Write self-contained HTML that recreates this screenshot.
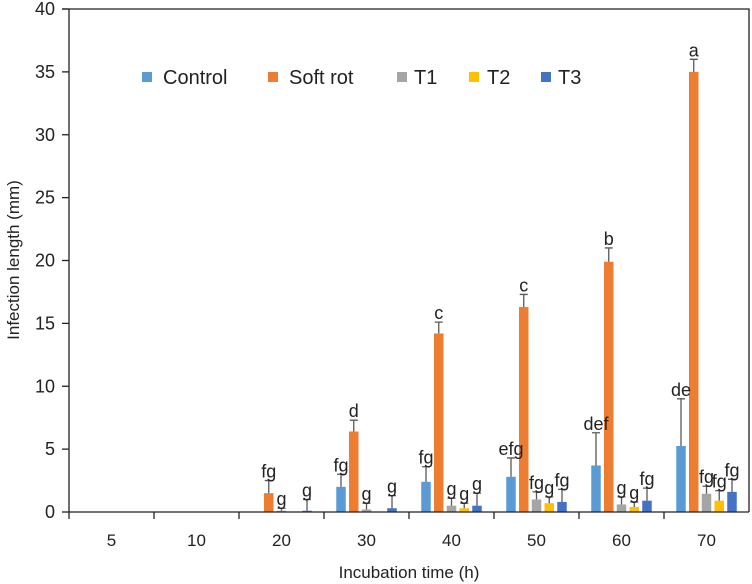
<!DOCTYPE html>
<html><head><meta charset="utf-8">
<style>
html,body{margin:0;padding:0;background:#fff;}
svg{display:block;font-family:"Liberation Sans",sans-serif;}
</style></head>
<body>
<svg id="chart" width="752" height="584" viewBox="0 0 752 584" xmlns="http://www.w3.org/2000/svg">
<rect width="752" height="584" fill="#fff"/>
<g id="plot"></g>
<text transform="translate(19,260) rotate(-90)" text-anchor="middle" font-size="17" fill="#222">Infection length (mm)</text>
<text x="409" y="578" text-anchor="middle" font-size="17" fill="#222">Incubation time (h)</text>
<g>
  <rect x="142" y="72" width="10" height="10" fill="#5B9BD5"/>
  <text x="163" y="84" font-size="20" fill="#222">Control</text>
  <rect x="268" y="72" width="10" height="10" fill="#ED7D31"/>
  <text x="289" y="84" font-size="20" fill="#222">Soft rot</text>
  <rect x="397" y="72" width="10" height="10" fill="#A5A5A5"/>
  <text x="414" y="84" font-size="20" fill="#222">T1</text>
  <rect x="469" y="72" width="10" height="10" fill="#FFC000"/>
  <text x="487" y="84" font-size="20" fill="#222">T2</text>
  <rect x="541" y="72" width="10" height="10" fill="#4472C4"/>
  <text x="558" y="84" font-size="20" fill="#222">T3</text>
</g>
</svg>
<script>
const categories = ["5","10","20","30","40","50","60","70"];
const seriesNames = ["Control","Soft rot","T1","T2","T3"];
const seriesColors = ["#5B9BD5","#ED7D31","#A5A5A5","#FFC000","#4472C4"];
const controlVals = [0,0,0,2.0,2.4,2.8,3.7,5.25];
const softRotVals = [0,0,1.5,6.4,14.2,16.3,19.9,35.0];
const t1Vals = [0,0,0.1,0.2,0.5,1.0,0.6,1.45];
const t2Vals = [0,0,0,0,0.3,0.7,0.4,0.9];
const t3Vals = [0,0,0.1,0.3,0.5,0.8,0.9,1.6];
const controlErr = [0,0,0,1.0,1.2,1.5,2.6,3.75];
const softRotErr = [0,0,1.0,0.9,0.9,1.0,1.1,1.0];
const t1Err = [0,0,0.2,0.5,0.6,0.6,0.6,0.6];
const t2Err = [0,0,0,0,0.4,0.5,0.4,0.8];
const t3Err = [0,0,0.9,1.0,1.0,1.0,1.0,1.0];
const controlLbl = ["","","","fg","fg","efg","def","de"];
const softRotLbl = ["","","fg","d","c","c","b","a"];
const t1Lbl = ["","","g","g","g","fg","g","fg"];
const t2Lbl = ["","","","","g","g","g","fg"];
const t3Lbl = ["","","g","g","g","fg","fg","fg"];
const yTicks = [0,5,10,15,20,25,30,35,40];

const values = [controlVals,softRotVals,t1Vals,t2Vals,t3Vals];
const errs = [controlErr,softRotErr,t1Err,t2Err,t3Err];
const lbls = [controlLbl,softRotLbl,t1Lbl,t2Lbl,t3Lbl];

const X0 = 69, X1 = 749, Y0 = 512, Y1 = 9, YMAX = 40;
const bandW = (X1 - X0) / categories.length;
function yScale(v){ return Y0 - v * (Y0 - Y1) / YMAX; }
function xCenter(i){ return X0 + bandW * (i + 0.5); }
const barStep = 12.75, barW = 9.5;
function xBar(i, s){ return xCenter(i) + (s - 2) * barStep - barW / 2; }

const NS = "http://www.w3.org/2000/svg";
const plot = document.getElementById("plot");
function mk(tag, attrs){ const e = document.createElementNS(NS, tag); for (const k in attrs) e.setAttribute(k, attrs[k]); plot.appendChild(e); return e; }

let fr = mk("path", {d:`M${X0-7},${Y1} H${X1} V${Y0}`, fill:"none", stroke:"#222", "stroke-width":1.3});



yTicks.forEach(t => {
  const y = yScale(t);
  const tk = mk("line", {x1:X0-7, x2:X0, y1:y, y2:y, stroke:"#222", "stroke-width":1.3});
  
  
  const tx = mk("text", {x:X0-14, y:y+6, "text-anchor":"end", "font-size":18, fill:"#222"});
  tx.textContent = t;
  
  
});

// bars and error bars
values.forEach((arr, s) => {
  arr.forEach((v, i) => {
    const x = xBar(i, s);
    if (v > 0) {
      const r = mk("rect", {x:x, y:yScale(v), width:barW, height:Y0 - yScale(v), fill:seriesColors[s]});
      
      
    }
    const e = errs[s][i];
    const cx = x + barW / 2;
    if (e > 0) {
      const top = yScale(v + e);
      const el = mk("path", {d:`M${cx},${yScale(v)} V${top} M${cx-4},${top} H${cx+4}`, stroke:"#595959", "stroke-width":1.3, fill:"none"});
      
      
    }
  });
});
// labels on top
values.forEach((arr, s) => {
  arr.forEach((v, i) => {
    const lb = lbls[s][i];
    if (!lb) return;
    const cx = xBar(i, s) + barW / 2;
    const t = mk("text", {x:cx, y:yScale(v + errs[s][i]) - 3, "text-anchor":"middle", "font-size":18, fill:"#222"});
    t.textContent = lb;
    
    
  });
});

let xa = mk("line", {x1:X0, x2:X1, y1:Y0, y2:Y0, stroke:"#222", "stroke-width":1.3});


let ya = mk("line", {x1:X0, x2:X0, y1:Y1, y2:Y0 + 7, stroke:"#222", "stroke-width":1.3});


categories.forEach((c, i) => {
  const xt = X0 + bandW * (i + 1);
  if (i < categories.length - 1) {
    const tk = mk("line", {x1:xt, x2:xt, y1:Y0, y2:Y0 + 7, stroke:"#222", "stroke-width":1.3});
    
    
  }
  const t = mk("text", {x:xCenter(i), y:Y0 + 34, "text-anchor":"middle", "font-size":17, fill:"#222"});
  t.textContent = c;
  
  
});
</script>
</body></html>
